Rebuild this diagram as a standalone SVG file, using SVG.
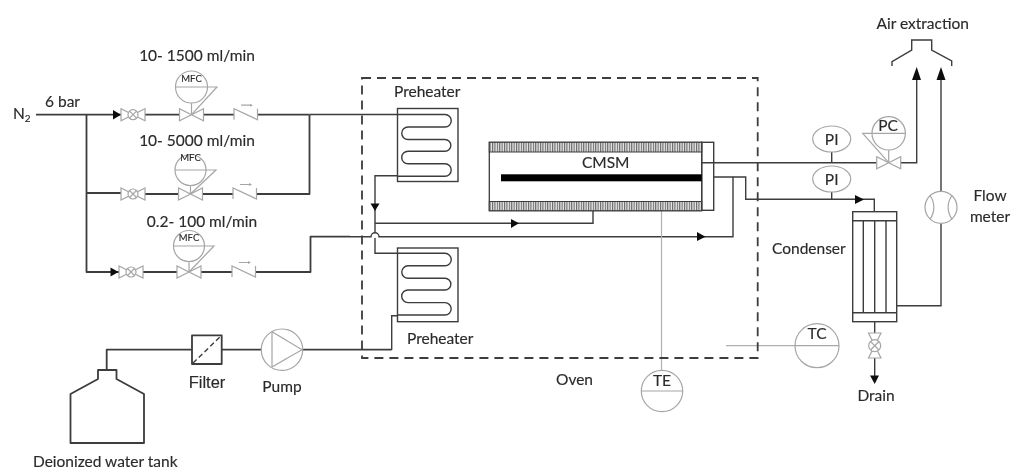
<svg xmlns="http://www.w3.org/2000/svg" width="1013" height="469" viewBox="0 0 1013 469">
<style>
text{font-family:"Lato","Liberation Sans",sans-serif;font-size:15.5px;fill:#2a2a2a;stroke:#2a2a2a;stroke-width:0.15}
.m{text-anchor:middle}
.a{font-family:"Liberation Sans",sans-serif}
.small{font-size:9.5px}
.p{fill:none;stroke:#3c3c3c;stroke-width:1.8;stroke-linejoin:round}
.t{fill:none;stroke:#3c3c3c;stroke-width:1.4}
.g{fill:none;stroke:#a6a6a6;stroke-width:1.2}
.gw{fill:#fff;stroke:#a6a6a6;stroke-width:1.2}
.d{fill:none;stroke:#3c3c3c;stroke-width:1.8;stroke-dasharray:9 6}
.k{fill:#111}
</style>
<defs>
<filter id="soft" x="0" y="0" width="100%" height="100%"><feGaussianBlur stdDeviation="0.4"/></filter>
<pattern id="hatch" width="2.4" height="10" patternUnits="userSpaceOnUse"><rect width="2.4" height="10" fill="#e8e8e8"/><rect width="1.1" height="10" fill="#666"/></pattern>
<g id="hand"><path class="gw" d="M-12-6V6L12-6V6Z"/><circle class="gw" r="5"/><path class="g" d="M-3.500-3.500L3.500 3.500M-3.500 3.500L3.500-3.500"/></g>
<g id="ctrl"><path class="gw" d="M-12-6V6L12-6V6Z"/></g>
<g id="check"><path class="g" d="M-12 5V-6L11.500 5V-6M-5-9.500H4"/><path d="M4-11V-8L7-9.500Z" fill="#a6a6a6"/></g>
<g id="coil"><path class="t" d="M0 0H47a6.200 6.200 0 0 1 0 12.500H10a6.200 6.200 0 0 0 0 12.500H47a5.800 5.800 0 0 1 0 11.700H10a6.300 6.300 0 0 0 0 12.600H47a6.200 6.200 0 0 1 0 12.400H0"/></g>
</defs>
<g filter="url(#soft)">
<rect width="1013" height="469" fill="#fff"/>
<g id="connectors">
<path class="p" d="M36 114.700H121M145 114.700H180M203 114.700H234M258 114.700H309.500M86.500 114.700V272H119M86.500 193H121M145 194H179M202 194H233M257 194H309.500V114.700"/>
<path class="p" d="M143 272H177M201 272H232M256 272H310.500V236.700H350"/>
<path class="t" d="M309.500 114.500H398"/>
<path class="t" d="M398 175.700H375V233M375 223.300H593V210.700"/>
<path class="t" d="M350 236.700H371a4 4 0 0 1 8 0H733V176.700"/>
<path class="t" d="M375 238V253.300H398"/>
<path class="t" d="M398 315.700H391.700V350"/>
<path class="p" d="M106.700 370V349.700H192M222 349.700H262M302 349.700H391.700"/>
<path class="t" d="M702 162.700H877M900 162.700H916.700V78"/>
<path class="t" d="M713.700 177H745.700V199.300H874.300V211.500"/>
<path class="t" d="M941 80V191M941 223.500V305.700H896.700"/>
<path class="t" d="M874.700 321.700V376"/>
<path class="t" d="M831.700 152V162.700M831.700 192V199.300"/>
<path class="k" d="M113 110V119.500L121 114.700ZM110.500 267.500V276.500L118.500 272ZM370.500 203.500H379.500L375 211ZM511 219V228L519 223.300ZM697 232V241L705.500 236.700ZM855 195V204L864 199.500ZM912 80H921L916.700 67ZM936.500 80H945.500L941 67ZM870 375.500H879L874.700 384Z"/>
<path d="M661.500 181.500V370.500M726 345.700H795" fill="none" stroke="#b0b0b0" stroke-width="1.200"/>
</g>
<g id="oven"><rect class="d" x="362" y="78" width="395.700" height="280"/><text x="556" y="385">Oven</text></g>
<g id="n2"><text x="13" y="119">N<tspan font-size="10" dy="3">2</tspan></text><text x="45" y="107">6 bar</text></g>
<g id="mfc1"><use href="#hand" x="133" y="114.700"/><use href="#ctrl" x="191.500" y="114.700"/><use href="#check" x="246" y="114.700"/><path class="g" d="M191.500 103V114.700M175.500 87H217L191.500 114.700"/><circle class="g" cx="191.500" cy="87" r="16"/><text class="m small" x="191.500" y="81.500">MFC</text><text class="m" x="197" y="60.700">10- 1500 ml/min</text></g>
<g id="mfc2"><use href="#hand" x="133" y="194"/><use href="#ctrl" x="190.500" y="194"/><use href="#check" x="245" y="194"/><path class="g" d="M190.500 185.500V194M175 170H216L190.500 194"/><circle class="g" cx="190.500" cy="170" r="15.500"/><text class="m small" x="190.500" y="161">MFC</text><text class="m" x="197" y="145.700">10- 5000 ml/min</text></g>
<g id="mfc3"><use href="#hand" x="131" y="272"/><use href="#ctrl" x="189" y="272"/><use href="#check" x="244" y="272"/><path class="g" d="M189 261.500V272M173 246H214L189 272"/><circle class="g" cx="189" cy="246" r="15.500"/><text class="m small" x="189" y="240.700">MFC</text><text class="m" x="202" y="226.700">0.2- 100 ml/min</text></g>
<g id="preheater1"><rect class="t" x="397.500" y="108.500" width="60.500" height="73"/><use href="#coil" x="398" y="114.500"/><text x="394" y="96.700">Preheater</text></g>
<g id="preheater2"><rect class="t" x="397.500" y="248" width="60.500" height="73.700"/><use href="#coil" x="398" y="253.300"/><text x="407" y="344">Preheater</text></g>
<g id="cmsm">
<rect x="489.300" y="142.300" width="212.400" height="68.400" fill="#fff" stroke="#3c3c3c" stroke-width="1.300"/>
<rect x="489.300" y="142.300" width="212.400" height="9.700" fill="url(#hatch)" stroke="#3c3c3c"/>
<rect x="489.300" y="201.500" width="212.400" height="9.200" fill="url(#hatch)" stroke="#3c3c3c"/>
<rect class="t" x="701.700" y="142.300" width="12" height="68"/>
<rect x="501" y="174.300" width="200.700" height="7" fill="#000"/>
<text class="m" x="605.700" y="168">CMSM</text>
</g>
<g id="te"><circle class="gw" cx="662" cy="391" r="20.700"/><path class="g" d="M641.300 391H682.700"/><text class="m" x="662" y="386">TE</text></g>
<g id="tc"><circle class="g" cx="817" cy="345.700" r="22"/><path class="g" d="M795 345.700H839"/><text class="m" x="817" y="339">TC</text></g>
<g id="pi1"><ellipse class="gw" cx="831.700" cy="139" rx="19" ry="13"/><text class="m" x="831.700" y="145">PI</text></g>
<g id="pi2"><ellipse class="gw" cx="831.700" cy="179" rx="19" ry="13"/><text class="m" x="831.700" y="185">PI</text></g>
<g id="pc"><use href="#ctrl" x="888.700" y="162.700"/><path class="g" d="M888.700 150V162.700M905.400 133.300H862.700L888.700 162.700"/><circle class="g" cx="888.700" cy="133.300" r="16.700"/><text class="m" x="888" y="131">PC</text></g>
<g id="hood"><path class="t" d="M892 66V61.700L911.700 50V40H931.700V50L951.700 61V66"/><text class="m" x="922.700" y="29">Air extraction</text></g>
<g id="flowmeter"><circle class="gw" cx="941" cy="207.300" r="16"/><path class="g" d="M930 195.500a20 20 0 0 1 0 23.600M952 195.500a20 20 0 0 0 0 23.600"/><text class="m" x="990" y="201">Flow</text><text class="m" x="990" y="222">meter</text></g>
<g id="condenser"><rect class="t" x="852.700" y="211.700" width="44" height="110"/><path class="t" d="M852.700 220.700H896.700M852.700 312.700H896.700M863.300 220.700V312.700M874.700 220.700V312.700M886 220.700V312.700"/><text x="772" y="254">Condenser</text></g>
<g id="drain"><path class="gw" d="M868.500 333H881L868.500 358H881Z"/><circle class="gw" cx="874.700" cy="345.700" r="6"/><path class="g" d="M870.500 341.500L879 350M870.500 350L879 341.500"/><text class="m" x="876" y="401">Drain</text></g>
<g id="pump"><circle class="g" cx="282" cy="349.700" r="20.700"/><path class="g" d="M272 331.700L302 349.700L272 367Z"/><text class="m" x="282" y="392">Pump</text></g>
<g id="filter"><rect class="p" x="192" y="335.300" width="29.700" height="28.700"/><path class="t" stroke-dasharray="5 3" d="M193 363L221 336"/><text class="m a" x="207" y="388" style="font-size:16.500px">Filter</text></g>
<g id="tank"><path class="p" d="M70.500 394L98 379V370H116.500V379L144 394V443H70.500Z"/><text x="33" y="467">Deionized water tank</text></g>
</g>
</svg>
